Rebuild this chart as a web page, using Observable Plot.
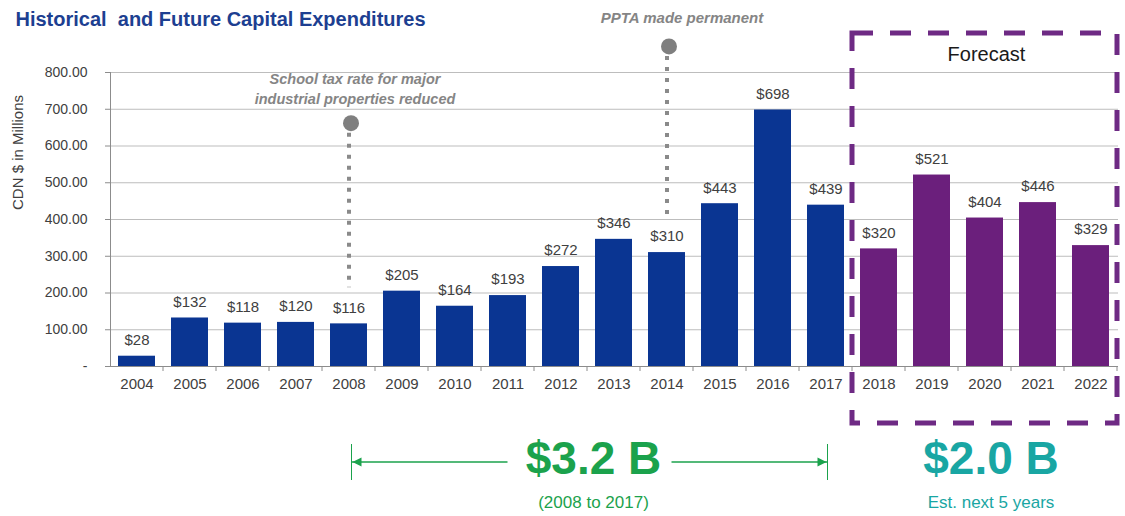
<!DOCTYPE html>
<html>
<head>
<meta charset="utf-8">
<script src="https://cdn.jsdelivr.net/npm/d3@7"></script>
<script src="https://cdn.jsdelivr.net/npm/@observablehq/plot@0.6"></script>
<style>
  html, body { margin: 0; padding: 0; background: #fff; }
  #chart svg { display: block; }
</style>
</head>
<body>
<div id="chart"></div>
<script>
// ---- data ----
const years = ["2004","2005","2006","2007","2008","2009","2010","2011","2012","2013","2014","2015","2016","2017","2018","2019","2020","2021","2022"];
const capex = [28,132,118,120,116,205,164,193,272,346,310,443,698,439,320,521,404,446,329];
const forecastYears = ["2018","2019","2020","2021","2022"];
const yTicks = [0,100,200,300,400,500,600,700,800];

const annotationYears = ["2008","2014"];
const annotationLabels = ["School tax rate for major\nindustrial properties reduced", "PPTA made permanent"];
const annotationMarkers = [662, 871];
const annotationLabelLevels = [758, 947];

const summaryFrom = ["2008","2018"];
const summaryTo = ["2017","2022"];
const summaryLabels = ["$3.2 B","$2.0 B"];
const summaryNotes = ["(2008 to 2017)","Est. next 5 years"];
const summaryArrows = [true, false];

const titleText = "Historical  and Future Capital Expenditures";
const yLabelText = "CDN $ in Millions";
const forecastText = "Forecast";

// ---- styles ----
const FONT = "'Liberation Sans', Arial, Helvetica, sans-serif";
const BLUE = "#0A3592";
const PURPLE = "#6B1F7C";
const BOX = "#6E2A84";
const GREEN = "#1BA24C";
const TEAL = "#19A6A3";
const GRAY_TEXT = "#404040";
const ANNO = "#858585";
const summaryColors = [GREEN, TEAL];

const data = years.map((year, i) => ({year, value: capex[i], forecast: forecastYears.includes(year)}));
const annotations = annotationYears.map((year, i) => ({
  year, value: capex[years.indexOf(year)], marker: annotationMarkers[i],
  labelLevel: annotationLabelLevels[i], label: annotationLabels[i]
}));
const summaries = summaryFrom.map((from, i) => ({
  from, to: summaryTo[i], label: summaryLabels[i], note: summaryNotes[i], arrow: summaryArrows[i], color: summaryColors[i]
}));

function bandInfo(x) {
  const step = x(years[1]) - x(years[0]);
  let bw = typeof x.bandwidth === "function" ? x.bandwidth() : x.bandwidth;
  if (!(bw > 0)) bw = step * 0.7;
  return {bw, step};
}

// axis lines + boundary ticks
function axisLines(index, {x}, values, {height, marginLeft, marginTop, marginBottom}) {
  const {bw, step} = bandInfo(x);
  const bottom = height - marginBottom;
  const g = d3.create("svg:g").attr("stroke", "#8c8c8c").attr("stroke-width", 1);
  g.append("line").attr("x1", marginLeft + 0.5).attr("x2", marginLeft + 0.5).attr("y1", marginTop).attr("y2", bottom);
  const bounds = years.map(y => x(y) + bw + (step - bw) / 2);
  bounds.forEach(b => g.append("line").attr("x1", b).attr("x2", b).attr("y1", bottom).attr("y2", bottom + 5));
  return g.node();
}

function forecastBox(index, {x}, values, {height, marginTop, marginBottom}) {
  const {bw, step} = bandInfo(x);
  const x1 = x(forecastYears[0]) - (step - bw) / 2;
  const x2 = x(forecastYears[forecastYears.length - 1]) + bw + (step - bw) / 2;
  const y1 = marginTop - 39, y2 = height - marginBottom + 57;
  const g = d3.create("svg:g");
  g.append("rect").attr("x", x1).attr("y", y1).attr("width", x2 - x1).attr("height", y2 - y1)
    .attr("fill", "none").attr("stroke", BOX).attr("stroke-width", 5).attr("stroke-dasharray", "21 17");
  g.append("text").attr("x", (x1 + x2) / 2 + 2).attr("y", marginTop - 18).attr("dy", "0.35em")
    .attr("text-anchor", "middle").attr("font-family", FONT).attr("font-size", 20).attr("fill", "#1a1a1a")
    .text(forecastText);
  return g.node();
}

function summaryMarks(index, {x}, values, {height, marginBottom}) {
  const {bw} = bandInfo(x);
  const base = height - marginBottom;
  const g = d3.create("svg:g").attr("font-family", FONT);
  summaries.forEach(s => {
    const a = x(s.from) + bw / 2 + 3, b = x(s.to) + bw / 2 + 2;
    const mid = (a + b) / 2 + 4;
    if (s.arrow) {
      const ay = base + 96;
      const ga = g.append("g").attr("stroke", s.color).attr("stroke-width", 1.4).attr("fill", s.color);
      ga.append("line").attr("x1", a).attr("x2", mid - 86).attr("y1", ay).attr("y2", ay);
      ga.append("line").attr("x1", mid + 78).attr("x2", b).attr("y1", ay).attr("y2", ay);
      ga.append("line").attr("x1", a).attr("x2", a).attr("y1", ay - 18).attr("y2", ay + 18).attr("stroke-width", 1);
      ga.append("line").attr("x1", b).attr("x2", b).attr("y1", ay - 18).attr("y2", ay + 18).attr("stroke-width", 1);
      ga.append("path").attr("stroke", "none").attr("d", `M${a + 1},${ay}L${a + 10},${ay - 4.5}L${a + 10},${ay + 4.5}Z`);
      ga.append("path").attr("stroke", "none").attr("d", `M${b - 1},${ay}L${b - 10},${ay - 4.5}L${b - 10},${ay + 4.5}Z`);
    }
    g.append("text").attr("x", mid).attr("y", base + 108).attr("text-anchor", "middle")
      .attr("font-size", 46).attr("font-weight", "bold").attr("fill", s.color).text(s.label);
    g.append("text").attr("x", mid).attr("y", base + 142).attr("text-anchor", "middle")
      .attr("font-size", 17).attr("fill", s.color).text(s.note);
  });
  return g.node();
}

const chart = Plot.plot({
  width: 1125,
  height: 516,
  marginTop: 72,
  marginBottom: 150,
  marginLeft: 110,
  marginRight: 7,
  style: {fontFamily: FONT, fontSize: "15px", color: GRAY_TEXT, background: "#fff", overflow: "visible"},
  x: {type: "band", domain: years, paddingInner: 0.3, paddingOuter: 0.15, label: null},
  y: {domain: [0, 800], label: null},
  marks: [
    Plot.gridY(yTicks.filter(d => d > 0), {stroke: "#bdbdbd", strokeOpacity: 1, strokeWidth: 1}),
    Plot.axisY(yTicks, {
      tickFormat: d => d === 0 ? "-" : d.toFixed(2),
      tickSize: 5, tickPadding: 18, fontSize: 14, fill: GRAY_TEXT, stroke: "#8c8c8c", label: null
    }),
    Plot.axisX({tickSize: 0, tickPadding: 12, fontSize: 15, fill: GRAY_TEXT, label: null}),
    Plot.barY(data, {filter: d => !d.forecast, x: "year", y: "value", fill: BLUE}),
    Plot.barY(data, {filter: d => d.forecast, x: "year", y: "value", fill: PURPLE}),
    Plot.ruleY([0], {stroke: "#8c8c8c"}),
    axisLines,
    Plot.text(data, {x: "year", y: "value", text: d => "$" + d.value, dy: -16, fontSize: 15, fill: GRAY_TEXT}),
    // annotations
    Plot.ruleX(annotations, {x: "year", y1: "marker", y2: "value", stroke: "#8a8a8a", strokeWidth: 4, strokeDasharray: "4 7", insetTop: 10, insetBottom: 36}),
    Plot.dot(annotations, {x: "year", y: "marker", r: 8, fill: "#7f7f7f", stroke: null, dx: 2}),
    Plot.text(annotations, {x: "year", y: "labelLevel", text: "label", fontSize: 14.5, fontWeight: "bold", fontStyle: "italic", fill: ANNO, lineHeight: 1.32, filter: d => d.year === "2008", dx: 6}),
    Plot.text(annotations, {x: "year", y: "labelLevel", text: "label", fontSize: 15, fontWeight: "bold", fontStyle: "italic", fill: ANNO, filter: d => d.year !== "2008", dx: 15}),
    forecastBox,
    summaryMarks,
    // title and y label
    Plot.text([titleText], {frameAnchor: "top-left", lineAnchor: "middle", dx: -95, dy: -53, textAnchor: "start", fontSize: 20, fontWeight: "bold", fill: "#1D3F91"}),
    Plot.text([yLabelText], {frameAnchor: "top-left", lineAnchor: "middle", dx: -92, dy: 80, rotate: -90, textAnchor: "middle", fontSize: 15, fill: GRAY_TEXT})
  ]
});
document.getElementById("chart").appendChild(chart);
</script>
</body>
</html>
